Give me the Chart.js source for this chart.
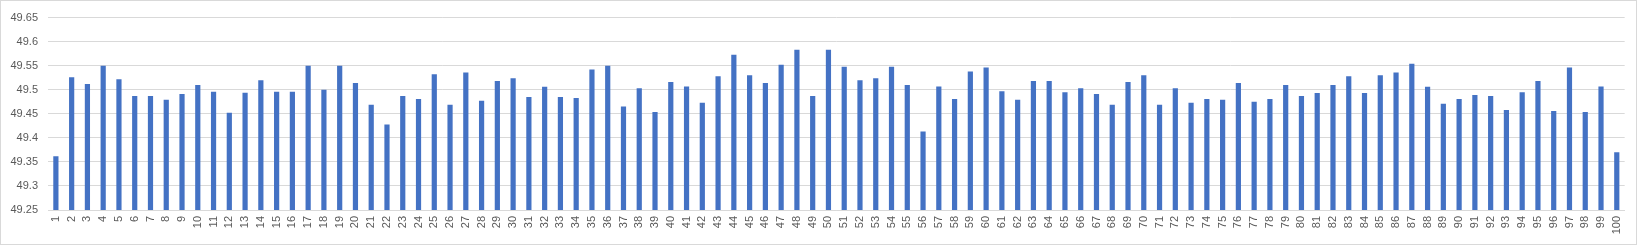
<!DOCTYPE html>
<html>
<head>
<meta charset="utf-8">
<script src="https://cdn.jsdelivr.net/npm/chart.js@4"></script>
<style>
  html, body { margin: 0; padding: 0; background: #ffffff; }
  #wrap { position: absolute; left: 0; top: 0; width: 1635px; height: 243px; border: 1px solid #d9d9d9; background: #fff; }
  canvas { display: block; }
</style>
</head>
<body>
<div id="wrap"><canvas id="c" width="1635" height="243"></canvas></div>
<script>
const categories = Array.from({length: 100}, (_, i) => String(i + 1));
const values = [
  49.362, 49.526, 49.512, 49.550, 49.522, 49.487, 49.487, 49.479, 49.491, 49.510,
  49.496, 49.452, 49.494, 49.520, 49.496, 49.496, 49.550, 49.500, 49.550, 49.514,
  49.469, 49.428, 49.487, 49.481, 49.532, 49.469, 49.536, 49.477, 49.518, 49.524,
  49.485, 49.506, 49.485, 49.483, 49.542, 49.550, 49.465, 49.503, 49.454, 49.516,
  49.507, 49.473, 49.528, 49.573, 49.530, 49.514, 49.552, 49.583, 49.487, 49.583,
  49.548, 49.520, 49.524, 49.548, 49.510, 49.413, 49.507, 49.481, 49.538, 49.546,
  49.497, 49.479, 49.518, 49.518, 49.495, 49.503, 49.491, 49.469, 49.516, 49.530,
  49.469, 49.503, 49.473, 49.481, 49.479, 49.514, 49.475, 49.481, 49.510, 49.487,
  49.493, 49.510, 49.528, 49.493, 49.530, 49.536, 49.554, 49.506, 49.471, 49.481,
  49.489, 49.487, 49.458, 49.495, 49.518, 49.456, 49.546, 49.454, 49.507, 49.370
];
const yTicks = [49.25, 49.3, 49.35, 49.4, 49.45, 49.5, 49.55, 49.6, 49.65];

const font = { family: "'Liberation Sans', Arial, sans-serif", size: 11 };

new Chart(document.getElementById('c'), {
  type: 'bar',
  data: {
    labels: categories,
    datasets: [{
      data: values,
      backgroundColor: '#4472c4',
      borderWidth: 0,
      barPercentage: 0.33,
      categoryPercentage: 1.0
    }]
  },
  options: {
    responsive: false,
    animation: false,
    layout: { padding: { top: 13, right: 4, bottom: 0, left: 0 } },
    plugins: { legend: { display: false }, tooltip: { enabled: false } },
    scales: {
      x: {
        grid: { display: false, drawTicks: false },
        border: { display: true, color: '#d9d9d9', width: 1 },
        ticks: {
          color: '#595959', font: font, autoSkip: false,
          minRotation: 90, maxRotation: 90, padding: 6
        },
        afterFit: (s) => { s.height = 34; }
      },
      y: {
        min: yTicks[0],
        max: yTicks[yTicks.length - 1],
        afterBuildTicks: (s) => { s.ticks = yTicks.map(v => ({ value: v })); },
        grid: { color: '#d9d9d9', lineWidth: 1, drawTicks: false },
        border: { display: false },
        ticks: {
          color: '#595959', font: font, padding: 10,
          callback: (v) => String(parseFloat(Number(v).toFixed(2)))
        },
        afterFit: (s) => { s.width = 47; }
      }
    }
  }
});
</script>
</body>
</html>
